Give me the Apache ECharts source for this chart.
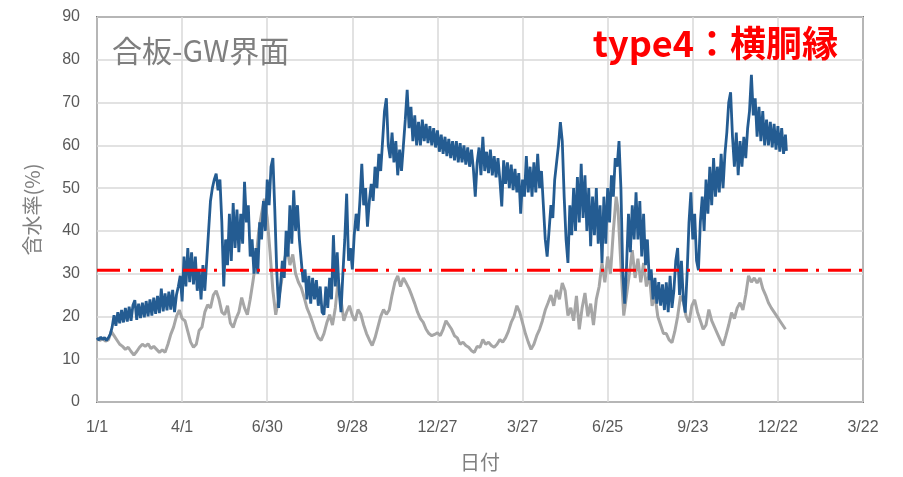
<!DOCTYPE html>
<html>
<head>
<meta charset="utf-8">
<script src="https://cdn.jsdelivr.net/npm/echarts@6/dist/echarts.min.js"></script>
<style>
  html, body { margin: 0; padding: 0; background: #fff; }
  #chart { width: 903px; height: 477px; }
</style>
</head>
<body>
<div id="chart"></div>
<script>
// Day ticks (every 90 days from 1/1) and their labels
const xTickLabels = ['1/1', '4/1', '6/30', '9/28', '12/27', '3/27', '6/25', '9/23', '12/22', '3/22'];
const dayStep = 90;
const yTickStep = 10;

// 合板-GW界面 moisture content, [day, %]
const interfaceSeries = [
  [0,15.0],[2,14.5],[4,15.2],[6,14.6],[8,15.1],[10,14.4],[12,15.0],[14,15.8],[16,17.5],[18,20.3],
  [20,17.8],[22,21.0],[24,18.4],[26,21.5],[28,18.6],[30,22.0],[32,18.8],[34,22.3],[36,19.0],[38,22.6],
  [40,23.8],[42,19.2],[44,23.0],[46,19.6],[48,23.2],[50,19.8],[52,23.6],[54,20.0],[56,24.0],[58,20.2],
  [60,24.4],[62,20.6],[64,24.8],[66,20.8],[68,26.5],[70,21.2],[72,25.4],[74,21.4],[76,25.8],[78,21.6],
  [80,26.2],[82,21.0],[84,25.0],[86,27.0],[88,29.5],[90,23.5],[92,34.0],[94,27.0],[96,36.0],[98,28.0],
  [100,35.0],[102,27.5],[104,34.0],[106,26.0],[108,31.0],[110,24.0],[112,32.0],[114,26.0],[116,33.0],[118,40.0],
  [120,47.0],[122,50.0],[124,52.0],[126,53.4],[128,49.5],[130,52.0],[132,42.0],[134,27.0],[136,38.0],[138,32.0],
  [140,44.0],[142,33.0],[144,46.5],[146,36.0],[148,45.0],[150,35.0],[152,44.0],[154,37.0],[156,51.5],[158,42.0],
  [160,46.0],[162,34.0],[164,38.0],[166,30.0],[168,36.0],[170,30.0],[172,42.0],[174,38.0],[176,47.0],[178,40.0],
  [180,52.0],[182,46.0],[184,55.0],[186,57.0],[188,45.0],[190,31.0],[192,22.0],[194,27.0],[196,33.0],[198,29.0],
  [200,40.0],[202,34.0],[204,46.0],[206,37.0],[208,49.5],[210,40.0],[212,46.0],[214,38.0],[216,33.0],[218,28.0],
  [220,31.0],[222,24.0],[224,29.5],[226,23.0],[228,29.0],[230,24.0],[232,28.5],[234,22.5],[236,27.0],[238,21.0],
  [240,20.4],[242,27.0],[244,22.0],[246,29.0],[248,24.0],[250,39.0],[252,27.0],[254,35.0],[256,26.0],[258,21.0],
  [260,30.0],[262,38.0],[264,48.7],[266,33.0],[268,36.0],[270,31.0],[272,39.0],[274,44.0],[276,40.0],[278,47.0],
  [280,55.7],[282,46.0],[284,50.0],[286,41.0],[288,47.0],[290,51.0],[292,47.0],[294,55.0],[296,50.0],[298,58.0],
  [300,54.0],[302,61.0],[304,68.0],[306,71.0],[308,60.0],[310,57.0],[312,63.0],[314,56.0],[316,61.0],[318,53.0],
  [320,59.0],[322,54.0],[324,60.0],[326,66.0],[328,73.0],[330,64.0],[332,69.0],[334,61.0],[336,67.0],[338,60.0],
  [340,65.5],[342,60.0],[344,66.0],[346,61.0],[348,65.0],[350,60.5],[352,64.5],[354,60.0],[356,64.0],[358,59.5],
  [360,63.5],[362,58.5],[364,62.5],[366,58.0],[368,62.0],[370,57.5],[372,61.5],[374,57.0],[376,61.0],[378,56.5],
  [380,61.0],[382,56.0],[384,60.5],[386,56.0],[388,60.0],[390,55.5],[392,59.5],[394,55.0],[396,59.0],[398,54.5],
  [400,48.0],[402,56.0],[404,59.5],[406,53.0],[408,62.0],[410,54.0],[412,58.5],[414,53.5],[416,59.0],[418,53.0],
  [420,57.5],[422,52.5],[424,57.0],[426,52.0],[428,45.7],[430,56.5],[432,51.0],[434,56.0],[436,50.0],[438,55.5],
  [440,49.5],[442,54.5],[444,49.0],[446,53.5],[448,44.0],[450,52.0],[452,48.0],[454,57.5],[456,49.0],[458,55.0],
  [460,48.0],[462,56.0],[464,49.0],[466,58.0],[468,50.0],[470,54.0],[472,46.0],[474,38.0],[476,34.0],[478,40.0],
  [480,46.0],[482,43.0],[484,52.0],[486,56.0],[488,60.0],[490,65.4],[492,61.0],[494,48.0],[496,38.0],[498,32.5],
  [500,46.0],[502,39.0],[504,50.0],[506,40.0],[508,52.6],[510,42.0],[512,55.7],[514,43.0],[516,53.0],[518,40.0],
  [520,50.0],[522,36.4],[524,48.0],[526,39.0],[528,50.0],[530,37.0],[532,46.0],[534,32.5],[536,48.0],[538,37.0],
  [540,50.0],[542,42.0],[544,53.0],[546,48.0],[548,57.0],[550,55.0],[552,61.0],[554,50.0],[556,30.0],[558,23.0],
  [560,32.0],[562,44.0],[564,35.0],[566,46.0],[568,38.0],[570,49.0],[572,38.0],[574,47.0],[576,34.0],[578,44.0],
  [580,32.0],[582,38.0],[584,28.5],[586,31.0],[588,24.0],[590,29.0],[592,23.0],[594,28.0],[596,22.5],[598,27.5],
  [600,21.5],[602,28.0],[604,21.0],[606,29.5],[608,22.0],[610,26.0],[612,33.0],[614,36.0],[616,25.0],[618,33.0],
  [620,24.0],[622,20.9],[624,30.0],[626,42.0],[628,49.0],[630,38.0],[632,44.0],[634,33.0],[636,30.8],[638,42.0],
  [640,48.0],[642,40.0],[644,52.0],[646,44.0],[648,55.0],[650,46.0],[652,57.0],[654,48.0],[656,55.0],[658,49.0],
  [660,58.0],[662,50.0],[664,58.0],[666,63.0],[668,70.0],[670,72.4],[672,62.0],[674,55.0],[676,63.0],[678,53.0],
  [680,61.0],[682,55.0],[684,62.0],[686,57.0],[688,64.0],[690,68.0],[692,76.5],[694,67.0],[696,71.0],[698,62.0],
  [700,69.0],[702,61.0],[704,68.0],[706,60.0],[708,66.0],[710,60.0],[712,65.5],[714,59.5],[716,65.0],[718,59.0],
  [720,64.5],[722,58.5],[724,64.0],[726,58.0],[728,62.5],[729,58.7]
];

// Comparison moisture content (grey), [day, %]
const comparisonSeries = [
  [0,15.0],[3,14.4],[6,14.8],[9,14.2],[12,14.5],[15,16.5],[18,15.5],[21,14.5],[24,13.5],[27,13.0],
  [30,12.3],[33,12.8],[36,11.8],[39,11.0],[42,11.8],[45,12.8],[48,13.5],[51,13.0],[54,13.6],[57,12.5],
  [60,13.0],[63,12.3],[66,11.6],[69,12.2],[72,11.6],[75,13.5],[78,15.8],[81,17.5],[84,20.0],[87,21.5],
  [90,19.5],[93,19.0],[96,16.5],[99,14.0],[102,12.8],[105,13.5],[108,16.7],[111,17.5],[114,21.0],[117,22.7],
  [120,22.0],[123,25.0],[126,26.0],[129,24.0],[132,21.0],[135,20.4],[138,22.5],[141,18.5],[144,17.4],[147,19.5],
  [150,21.0],[153,24.4],[156,22.0],[159,20.4],[162,24.0],[165,28.3],[168,33.0],[171,40.0],[174,44.0],[177,47.5],
  [180,43.0],[183,35.0],[186,26.0],[189,20.4],[192,24.0],[195,28.0],[198,33.0],[201,36.0],[204,32.0],[207,34.5],
  [210,30.0],[213,28.0],[216,26.7],[219,24.5],[222,22.0],[225,20.4],[228,18.5],[231,16.5],[234,15.0],[237,14.4],
  [240,16.0],[243,18.5],[246,20.4],[249,18.0],[252,22.0],[255,28.5],[258,24.0],[261,19.0],[264,21.0],[267,22.5],
  [270,20.2],[273,19.0],[276,21.6],[279,20.5],[282,18.0],[285,16.0],[288,14.5],[291,13.2],[294,15.0],[297,17.5],
  [300,20.0],[303,21.6],[306,20.5],[309,21.5],[312,25.0],[315,28.0],[318,29.5],[321,27.0],[324,29.0],[327,27.8],
  [330,26.5],[333,24.8],[336,23.0],[339,21.0],[342,19.5],[345,18.6],[348,17.0],[351,16.0],[354,15.5],[357,15.8],
  [360,16.2],[363,15.5],[366,17.0],[369,19.0],[372,18.0],[375,17.0],[378,15.5],[381,15.0],[384,13.5],[387,14.0],
  [390,13.2],[393,12.8],[396,12.0],[399,11.6],[402,13.0],[405,12.8],[408,14.6],[411,13.5],[414,14.0],[417,13.2],
  [420,12.8],[423,13.5],[426,14.6],[429,14.0],[432,15.0],[435,16.5],[438,18.6],[441,20.0],[444,22.5],[447,21.0],
  [450,18.5],[453,16.0],[456,14.0],[459,12.3],[462,13.5],[465,15.5],[468,17.0],[471,19.0],[474,21.5],[477,23.2],
  [480,25.0],[483,22.5],[486,26.2],[489,24.0],[492,27.8],[495,26.0],[498,20.2],[501,22.0],[504,19.0],[507,24.8],
  [510,17.0],[513,22.0],[516,25.5],[519,20.0],[522,23.0],[525,18.0],[528,24.0],[531,27.0],[534,32.5],[537,28.0],
  [540,34.0],[543,30.0],[546,40.0],[549,48.0],[551,45.0],[553,36.0],[555,28.0],[557,20.2],[560,25.0],[563,30.0],
  [566,35.5],[569,29.0],[572,33.5],[575,28.0],[578,32.5],[581,27.0],[584,30.0],[587,22.5],[590,25.0],[593,20.0],
  [596,18.0],[599,16.0],[602,16.0],[605,14.5],[608,13.9],[611,16.5],[614,20.0],[617,24.8],[620,23.5],[623,20.0],
  [626,18.6],[629,22.5],[632,23.9],[635,21.0],[638,19.0],[641,17.0],[644,18.0],[647,21.6],[650,19.0],[653,17.5],
  [656,16.0],[659,14.5],[662,13.2],[665,15.5],[668,18.0],[671,20.9],[674,19.5],[677,22.0],[680,23.2],[683,21.5],
  [686,25.0],[689,29.5],[692,28.0],[695,29.0],[698,27.8],[701,29.0],[704,26.5],[707,25.0],[710,23.2],[713,22.0],
  [716,21.0],[719,20.0],[722,19.0],[725,18.0],[728,17.0]
];

// Threshold line across the whole date range
const thresholdLine = [[0, 30.8], [810, 30.8]];

const chart = echarts.init(document.getElementById('chart'), null, { renderer: 'canvas' });

const tickFont = { color: '#595959', fontSize: 16, fontFamily: 'Liberation Sans Narrow, Liberation Sans, sans-serif' };

chart.setOption({
  animation: false,
  backgroundColor: '#ffffff',
  grid: {
    left: 97, right: 40, top: 17, bottom: 72,
    show: true, borderColor: '#1a1a1a', borderWidth: 1.5, containLabel: false
  },
  xAxis: {
    type: 'value',
    min: 0,
    max: dayStep * (xTickLabels.length - 1),
    interval: dayStep,
    name: '日付',
    nameLocation: 'middle',
    nameGap: 50,
    nameTextStyle: { color: '#808080', fontSize: 20, fontFamily: 'Noto Sans CJK JP' },
    axisLine: { show: false },
    axisTick: { show: false },
    axisLabel: Object.assign({ margin: 18, formatter: v => xTickLabels[Math.round(v / dayStep)] }, tickFont),
    splitLine: { show: true, lineStyle: { color: '#d9d9d9', width: 1.5 } }
  },
  yAxis: {
    type: 'value',
    min: 0,
    max: 90,
    interval: yTickStep,
    name: '含水率(%)',
    nameLocation: 'middle',
    nameGap: 55,
    nameTextStyle: { color: '#808080', fontSize: 20, fontFamily: 'Noto Sans CJK JP' },
    axisLine: { show: false },
    axisTick: { show: false },
    axisLabel: Object.assign({ margin: 17 }, tickFont),
    splitLine: { show: true, lineStyle: { color: '#d9d9d9', width: 1.5 } }
  },
  graphic: [
    {
      type: 'text', left: 112, top: 36, z: 100,
      style: { text: '合板-GW界面', fill: '#7f7f7f', font: '30px "Noto Sans CJK JP"' }
    },
    {
      type: 'text', right: 65, top: 25, z: 100,
      style: { text: 'type4：横胴縁', fill: '#ff0000', font: 'bold 36px "Noto Sans CJK JP"' }
    }
  ],
  series: [
    {
      type: 'line', data: comparisonSeries, showSymbol: false, z: 2,
      lineStyle: { color: '#a6a6a6', width: 3 }
    },
    {
      type: 'line', data: interfaceSeries, showSymbol: false, z: 3,
      lineStyle: { color: '#245c92', width: 2.8 }
    },
    {
      type: 'line', data: thresholdLine, showSymbol: false, z: 4,
      lineStyle: { color: '#ff0000', width: 3, type: [23, 8, 3, 9], cap: 'butt' }
    }
  ]
});
</script>
</body>
</html>
